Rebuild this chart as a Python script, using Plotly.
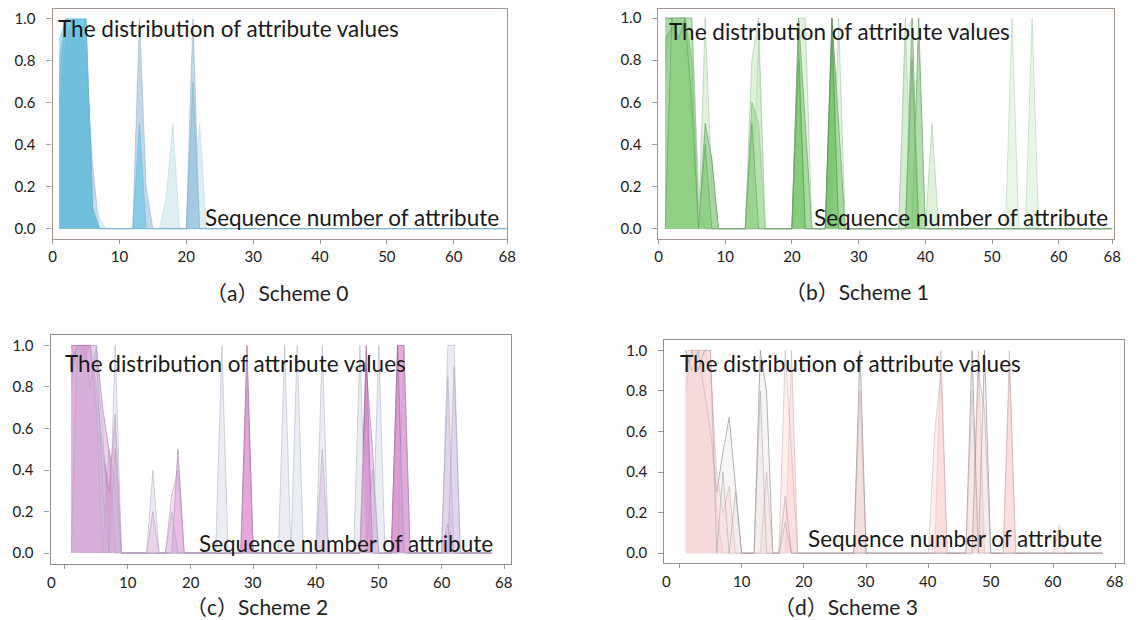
import plotly.graph_objects as go

# ---------------- data ----------------
ATTRIBUTES = list(range(1, 69))          # sequence number of attribute
X_TICK_VALUES = [0, 10, 20, 30, 40, 50, 60, 68]
X_TICK_LABELS = ["0", "10", "20", "30", "40", "50", "60", "68"]
Y_TICK_VALUES = [0.0, 0.2, 0.4, 0.6, 0.8, 1.0]
Y_TICK_LABELS = ["0.0", "0.2", "0.4", "0.6", "0.8", "1.0"]

CAPTIONS = ["（a）Scheme 0", "（b）Scheme 1", "（c）Scheme 2", "（d）Scheme 3"]
TITLE_TEXT = "The distribution of attribute values"
AXIS_TEXT = "Sequence number of attribute"

# each series: {attribute number: value}; other attributes are 0
SCHEME0_SERIES = [
    {1: 0.8, 2: 1.0, 3: 0.9, 4: 1.0, 5: 0.8, 6: 0.3, 13: 1.0, 14: 0.2, 21: 1.0},
    {1: 0.8, 2: 0.9, 3: 1.0, 4: 1.0, 5: 0.6, 6: 0.2, 7: 0.05, 17: 0.15, 18: 0.5, 22: 0.5},
    {1: 0.6, 2: 0.9, 3: 1.0, 4: 1.0, 5: 1.0, 6: 0.1},
    {1: 0.9, 2: 1.0, 3: 1.0, 4: 1.0, 5: 1.0, 6: 0.05, 13: 0.5},
    {1: 0.7, 2: 1.0, 3: 1.0, 4: 0.9, 5: 1.0, 6: 0.1, 21: 0.7},
]
SCHEME0_FILLS = ["rgba(145,182,215,0.55)", "rgba(195,225,235,0.55)",
                 "rgba(80,190,220,0.55)", "rgba(90,195,225,0.55)",
                 "rgba(120,180,215,0.4)"]
SCHEME0_LINES = ["rgba(150,180,205,0.6)", "rgba(190,215,225,0.6)",
                 "rgba(90,180,210,0.5)", "rgba(100,185,215,0.5)",
                 "rgba(120,175,205,0.5)"]

SCHEME1_SERIES = [
    {1: 1.0, 2: 1.0, 3: 1.0, 4: 1.0, 5: 0.8, 7: 0.5, 8: 0.33, 21: 1.0, 22: 0.5, 26: 1.0, 27: 0.5, 38: 1.0},
    {1: 0.9, 2: 0.95, 3: 1.0, 4: 1.0, 5: 1.0, 6: 0.1, 14: 0.6, 15: 0.5, 21: 0.9, 26: 1.0, 39: 1.0},
    {1: 0.8, 2: 1.0, 3: 1.0, 4: 0.9, 5: 0.5, 7: 1.0, 8: 0.2, 14: 0.8, 15: 1.0, 21: 1.0, 22: 1.0,
     27: 1.0, 37: 1.0, 39: 0.9, 41: 0.5},
    {1: 0.7, 2: 0.9, 3: 1.0, 4: 1.0, 5: 1.0, 6: 0.2, 15: 0.9, 37: 0.9, 38: 1.0, 53: 1.0, 56: 1.0},
    {2: 1.0, 3: 0.9, 4: 1.0, 5: 0.6, 7: 0.4, 14: 0.5, 21: 0.8, 26: 0.9, 38: 0.8},
]
SCHEME1_FILLS = ["rgba(85,180,75,0.5)", "rgba(100,190,85,0.45)",
                 "rgba(165,218,155,0.35)", "rgba(190,228,185,0.35)",
                 "rgba(110,195,95,0.35)"]
SCHEME1_LINES = ["rgba(70,110,70,0.6)", "rgba(80,140,80,0.55)",
                 "rgba(150,190,150,0.5)", "rgba(170,205,170,0.5)",
                 "rgba(90,150,90,0.5)"]

SCHEME2_SERIES = [
    {1: 1.0, 2: 1.0, 3: 1.0, 4: 1.0, 5: 0.8, 6: 0.5, 7: 0.3, 8: 0.67, 29: 1.0, 48: 1.0, 53: 1.0, 54: 1.0},
    {1: 0.9, 2: 1.0, 3: 1.0, 4: 1.0, 5: 1.0, 6: 0.7, 7: 0.5, 8: 0.33, 18: 0.5, 41: 0.5,
     48: 0.9, 49: 0.5, 53: 1.0, 61: 0.85},
    {1: 0.8, 2: 1.0, 3: 0.9, 4: 1.0, 5: 0.9, 6: 0.6, 8: 1.0, 14: 0.4, 25: 1.0, 35: 1.0, 37: 1.0,
     41: 1.0, 47: 1.0, 50: 1.0, 61: 1.0, 62: 1.0},
    {1: 1.0, 2: 0.9, 3: 1.0, 4: 1.0, 5: 0.7, 7: 0.5, 14: 0.2, 17: 0.28, 18: 0.4, 29: 0.8,
     48: 0.7, 53: 0.9, 61: 0.14},
    {2: 1.0, 3: 1.0, 4: 0.8, 5: 1.0, 6: 0.3, 8: 0.5, 17: 0.2, 49: 0.4, 54: 1.0, 62: 0.9},
]
SCHEME2_FILLS = ["rgba(210,85,185,0.5)", "rgba(195,120,200,0.35)",
                 "rgba(218,218,232,0.5)", "rgba(230,160,215,0.35)",
                 "rgba(205,175,220,0.35)"]
SCHEME2_LINES = ["rgba(130,80,125,0.55)", "rgba(140,100,145,0.5)",
                 "rgba(175,185,200,0.6)", "rgba(185,145,185,0.5)",
                 "rgba(170,160,190,0.5)"]

SCHEME3_SERIES = [
    {1: 1.0, 2: 1.0, 3: 1.0, 4: 1.0, 5: 1.0, 6: 0.2, 18: 1.0, 29: 0.8, 42: 1.0, 48: 1.0, 53: 1.0},
    {1: 1.0, 2: 0.9, 3: 1.0, 4: 0.8, 5: 0.6, 6: 0.3, 7: 0.5, 8: 0.67, 9: 0.33, 13: 1.0, 14: 0.8,
     17: 0.28, 29: 1.0, 47: 1.0, 49: 1.0},
    {1: 0.8, 2: 1.0, 3: 1.0, 4: 1.0, 5: 0.9, 6: 0.4, 7: 0.2, 8: 0.33, 14: 0.4, 17: 1.0, 18: 0.5,
     41: 0.6, 42: 0.9, 47: 0.8, 53: 0.9, 61: 0.14},
    {1: 0.9, 2: 1.0, 3: 0.9, 4: 1.0, 5: 1.0, 7: 0.4, 9: 0.3, 13: 0.8, 17: 0.15, 48: 0.9, 49: 0.7},
]
SCHEME3_FILLS = ["rgba(250,200,200,0.45)", "rgba(215,200,200,0.2)",
                 "rgba(252,212,212,0.4)", "rgba(240,215,215,0.25)"]
SCHEME3_LINES = ["rgba(205,165,165,0.5)", "rgba(120,120,125,0.55)",
                 "rgba(195,175,178,0.5)", "rgba(150,150,155,0.45)"]

# ---------------- layout constants ----------------
PAGE_OFFSET = 8                      # default page margin in front of the figure
W, H = 1138 - PAGE_OFFSET, 620 - PAGE_OFFSET
FONT = "Lato"
CAPTION_FONT = "Lato, Noto Sans CJK SC"

# panel boxes in window pixels: (left, top, right, bottom), axis ranges
PANELS = [
    dict(box=(49, 8, 509, 238), xr=[0, 68], yr=[-0.0476, 1.0476]),
    dict(box=(662, 8, 1123, 238), xr=[0, 68.3], yr=[-0.047, 1.043]),
    dict(box=(47, 335, 513, 564), xr=[-2.3, 71.1], yr=[-0.053, 1.048]),
    dict(box=(668, 340, 1133, 563), xr=[-2.4, 71.4], yr=[-0.049, 1.049]),
]
FRAME_COLORS = ["#a3958e", "#a3958e", "#8e8e8e", "#8e9494"]
CAPTION_POS = [(277, 292), (863, 291), (256, 606), (852, 606)]
TITLE_POS = [(53, 28), (671, 31), (60, 363), (682, 363)]
AXTEXT_POS = [(503, 217), (1119, 217), (497, 543), (1113, 538)]
LOWER_LABEL_X = [-2.1, 10, 20, 30, 40, 50, 60, 69.8]
LOWER_TICK_VALUES = [0, 10, 20, 30, 40, 50, 60, 70]


def expand(series):
    return [series.get(a, 0.0) for a in ATTRIBUTES]


def clamp(v):
    return min(1.0, max(0.0, v))


def px_x(p):
    return clamp((p - PAGE_OFFSET) / W)


def px_y(p):
    return clamp(1 - (p - PAGE_OFFSET) / H)


fig = go.Figure()

ALL = [
    (SCHEME0_SERIES, SCHEME0_FILLS, SCHEME0_LINES),
    (SCHEME1_SERIES, SCHEME1_FILLS, SCHEME1_LINES),
    (SCHEME2_SERIES, SCHEME2_FILLS, SCHEME2_LINES),
    (SCHEME3_SERIES, SCHEME3_FILLS, SCHEME3_LINES),
]

annotations = []
for i, (series_list, fills, lines) in enumerate(ALL):
    sfx = "" if i == 0 else str(i + 1)
    for s, fc, lc in zip(series_list, fills, lines):
        fig.add_trace(go.Scatter(
            x=ATTRIBUTES, y=expand(s), mode="lines", fill="tozeroy",
            fillcolor=fc, line=dict(color=lc, width=1),
            xaxis="x" + sfx, yaxis="y" + sfx, showlegend=False, hoverinfo="skip"))

    p = PANELS[i]
    l, t, r, b = p["box"]
    lower = i >= 2
    xa = dict(domain=[px_x(l), px_x(r)], range=p["xr"], anchor="y" + sfx,
              showline=True, mirror=True, linecolor=FRAME_COLORS[i], linewidth=1.2,
              showgrid=False, zeroline=False,
              ticks="outside", ticklen=4, tickcolor="#9a9a9a",
              tickfont=dict(family=FONT, size=15, color="#222"))
    if lower:
        xa.update(tickvals=LOWER_TICK_VALUES, showticklabels=False)
        for xv, lab in zip(LOWER_LABEL_X, X_TICK_LABELS):
            annotations.append(dict(x=xv, y=px_y(b + 18), xref="x" + sfx, yref="paper",
                                    text=lab, showarrow=False, xanchor="center", yanchor="middle",
                                    font=dict(family=FONT, size=15, color="#222")))
    else:
        xa.update(tickvals=X_TICK_VALUES, ticktext=X_TICK_LABELS)
    ya = dict(domain=[px_y(b), px_y(t)], range=p["yr"], anchor="x" + sfx,
              showline=True, mirror=True, linecolor=FRAME_COLORS[i], linewidth=1.2,
              showgrid=False, zeroline=False,
              tickvals=Y_TICK_VALUES, ticktext=Y_TICK_LABELS,
              ticks="outside", ticklen=5, tickcolor="#9a9a9a", ticklabelstandoff=8,
              tickfont=dict(family=FONT, size=15, color="#222"))
    fig.update_layout(**{"xaxis" + sfx: xa, "yaxis" + sfx: ya})

    cx, cy = CAPTION_POS[i]
    annotations.append(dict(x=px_x(cx), y=px_y(cy), xref="paper", yref="paper",
                            text=CAPTIONS[i], showarrow=False, xanchor="center", yanchor="middle",
                            font=dict(family=CAPTION_FONT, size=21, color="#222")))
    tx, ty = TITLE_POS[i]
    annotations.append(dict(x=px_x(tx), y=px_y(ty), xref="paper", yref="paper",
                            text=TITLE_TEXT, showarrow=False, xanchor="left", yanchor="middle",
                            font=dict(family=FONT, size=22.5, color="#1a1a1a")))
    ax_, ay_ = AXTEXT_POS[i]
    annotations.append(dict(x=px_x(ax_), y=px_y(ay_), xref="paper", yref="paper",
                            text=AXIS_TEXT, showarrow=False, xanchor="right", yanchor="middle",
                            font=dict(family=FONT, size=22.5, color="#1a1a1a")))

fig.update_layout(width=W, height=H, margin=dict(l=0, r=0, t=0, b=0),
                  paper_bgcolor="#fdfdfd", plot_bgcolor="white",
                  annotations=annotations, showlegend=False)

fig.write_html("out.html")
